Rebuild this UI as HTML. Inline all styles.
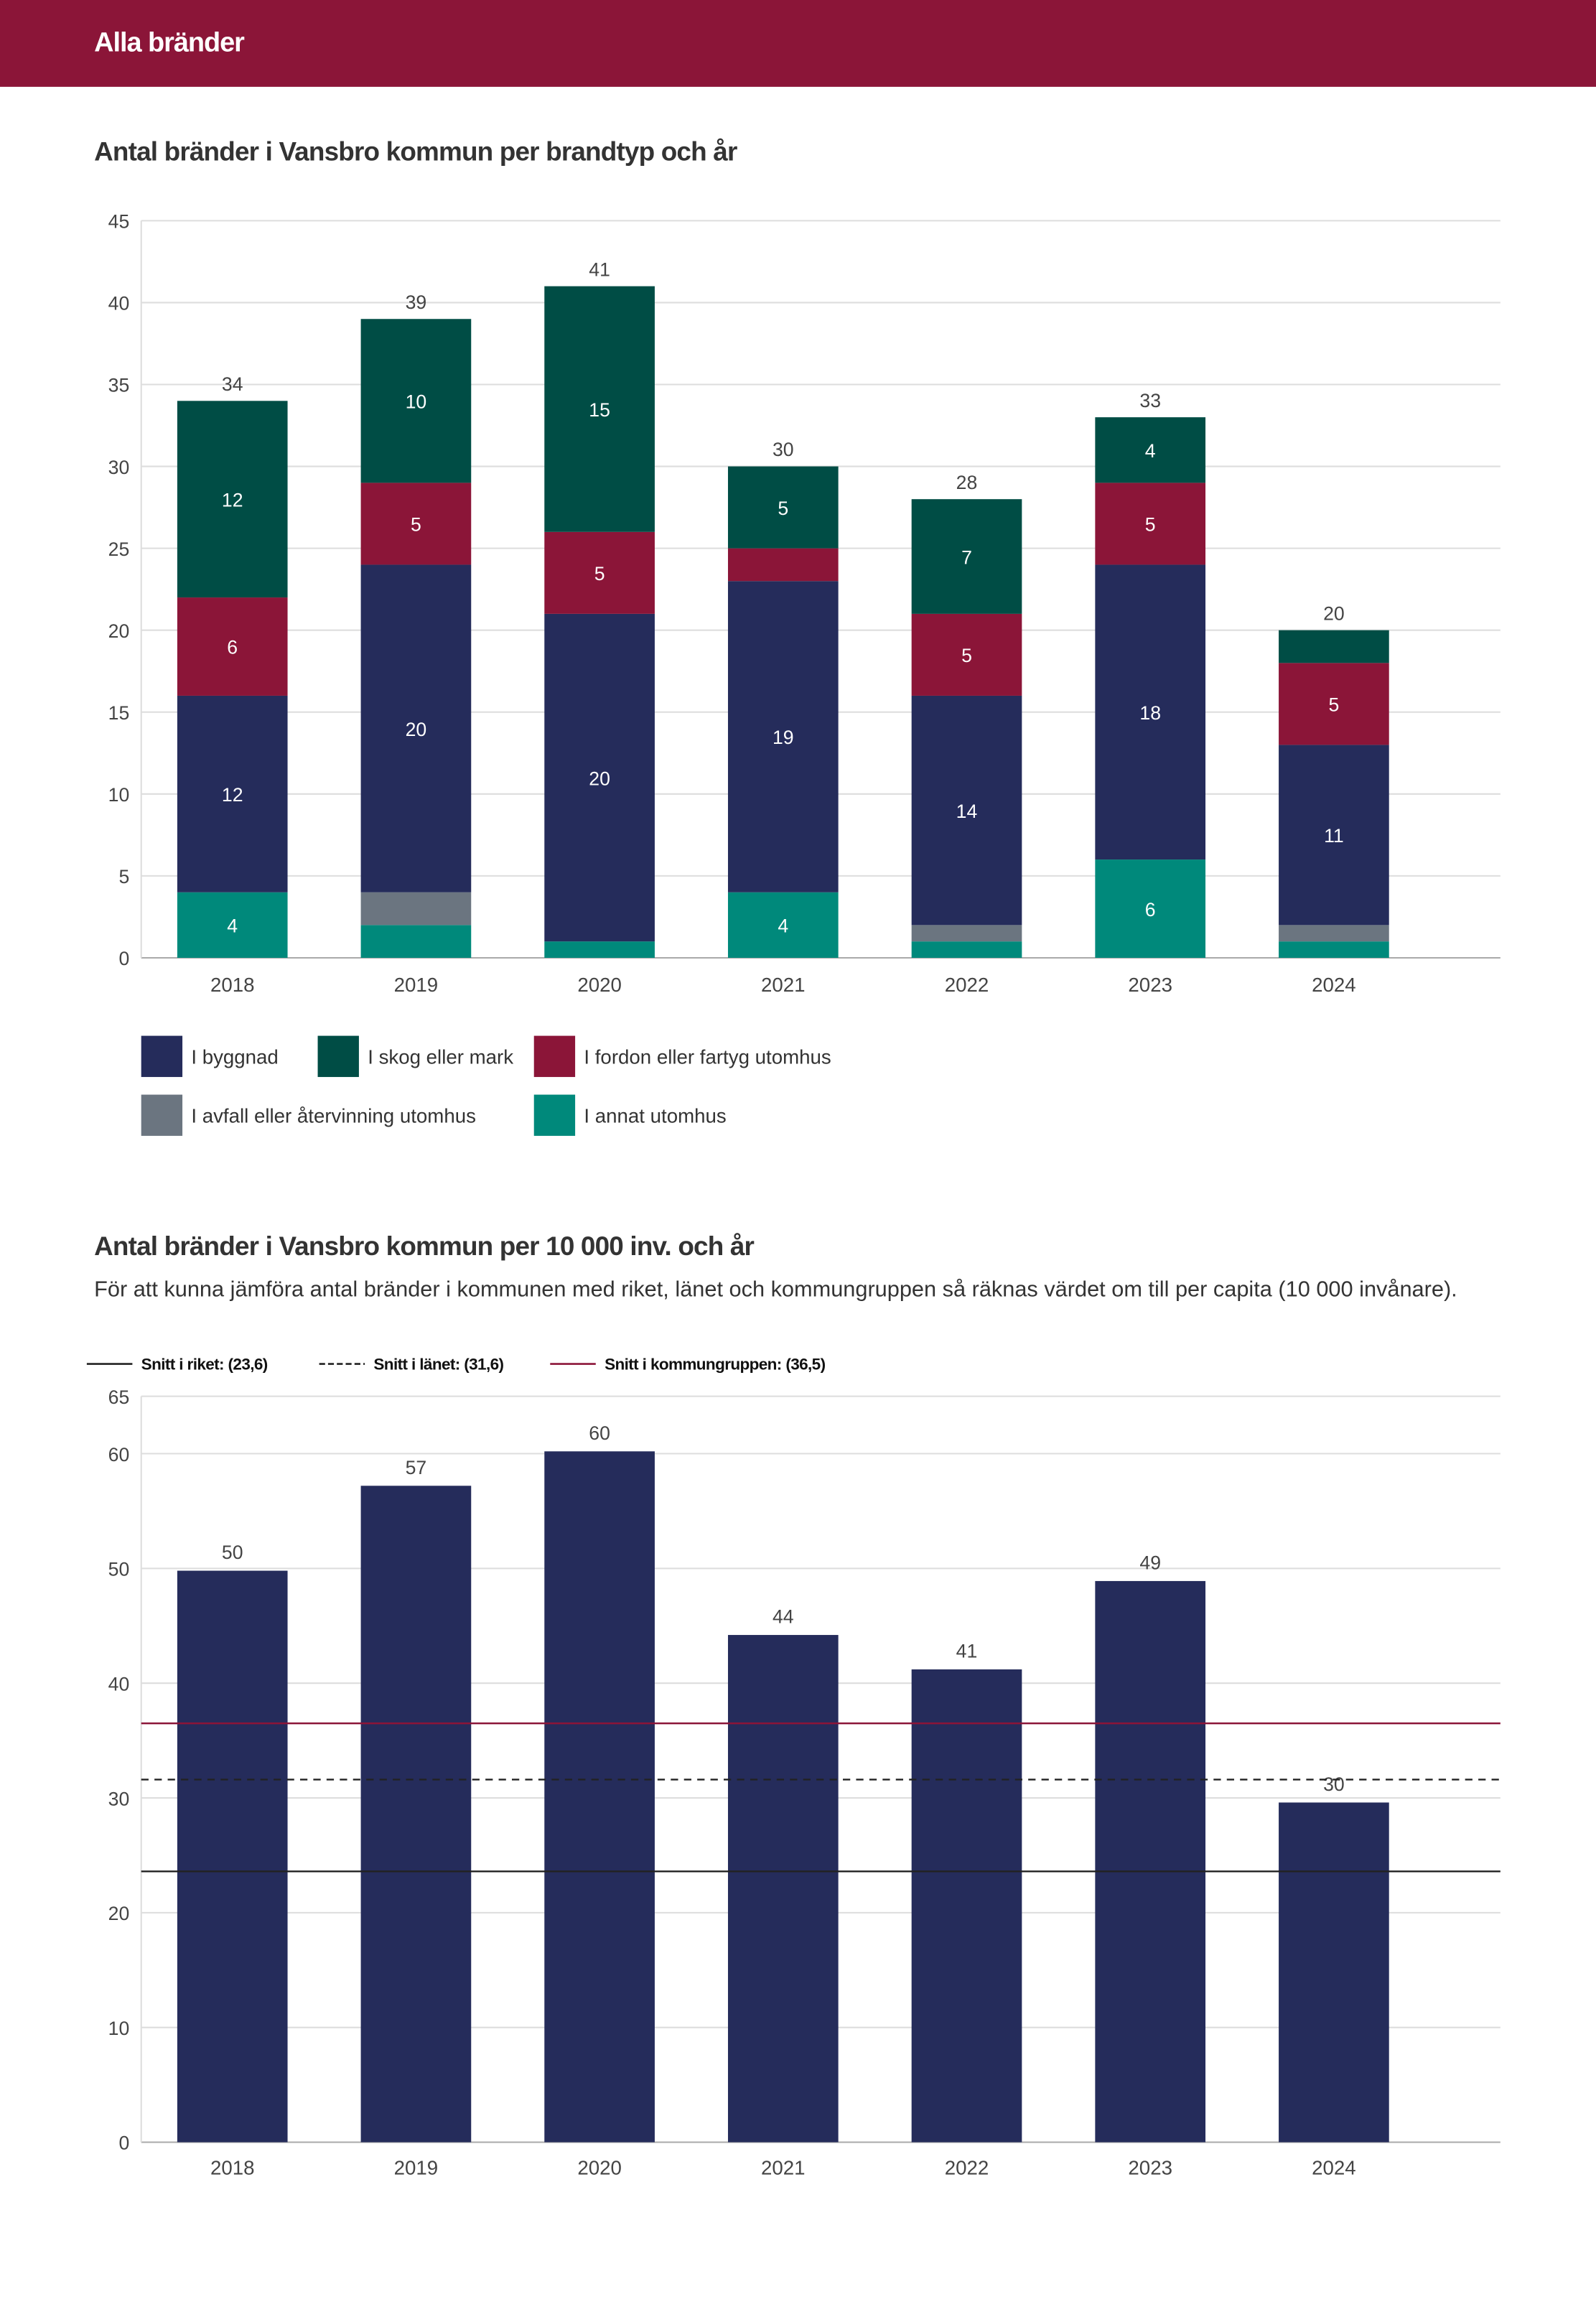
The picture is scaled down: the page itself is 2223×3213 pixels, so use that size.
<!DOCTYPE html>
<html><head><meta charset="utf-8">
<style>
html,body{margin:0;padding:0;background:#fff;}
svg{display:block;font-family:"Liberation Sans",sans-serif;}
</style></head>
<body>
<svg id="page" width="2223" height="3213" viewBox="0 0 1085 1568" preserveAspectRatio="none" xmlns="http://www.w3.org/2000/svg">
<rect x="0" y="0" width="1085" height="59" fill="#8B1538"/>
<text x="64" y="35" font-size="18.5" font-weight="bold" fill="#fff" letter-spacing="-0.5">Alla bränder</text>
<text x="64" y="109" font-size="18" font-weight="bold" fill="#333" letter-spacing="-0.4">Antal bränder i Vansbro kommun per brandtyp och år</text>
<g id="c1"></g>
<g id="leg1"></g>
<text x="64" y="853" font-size="18" font-weight="bold" fill="#333" letter-spacing="-0.4">Antal bränder i Vansbro kommun per 10 000 inv. och år</text>
<text x="64" y="881" font-size="15" fill="#333">För att kunna jämföra antal bränder i kommunen med riket, länet och kommungruppen så räknas värdet om till per capita (10 000 invånare).</text>
<g id="leg2"></g>
<g id="c2"></g>
</svg>
<script>
const years = ["2018","2019","2020","2021","2022","2023","2024"];
const seriesNames = ["I annat utomhus","I avfall eller återvinning utomhus","I byggnad","I fordon eller fartyg utomhus","I skog eller mark"];
const annat   = [4,2,1,4,1,6,1];
const avfall  = [0,2,0,0,1,0,1];
const byggnad = [12,20,20,19,14,18,11];
const fordon  = [6,5,5,2,5,5,5];
const skog    = [12,10,15,5,7,4,2];
const ticks1 = [0,5,10,15,20,25,30,35,40,45];
const perCapita = [49.8,57.2,60.2,44.2,41.2,48.9,29.6];
const ticks2 = [0,10,20,30,40,50,60,65];
const refRiket = 23.6, refLanet = 31.6, refGrupp = 36.5;

const NS="http://www.w3.org/2000/svg";
function mk(tag, attrs, parent, text){
  const e=document.createElementNS(NS,tag);
  for(const k in attrs) e.setAttribute(k,attrs[k]);
  if(text!==undefined) e.textContent=text;
  parent.appendChild(e); return e;
}
const colors=["#00897B","#6B7580","#252C5B","#8B1538","#004D45"];
const series=[annat,avfall,byggnad,fordon,skog];
const X0=96,X1=1020,step=124.8,first=158,bw=75;
const xC=i=>first+i*step;

// Chart 1
const c1=document.getElementById('c1');
const y1=v=>651-v*(501/45);
ticks1.forEach(t=>{
  const l=mk('line',{x1:X0,x2:X1,y1:y1(t),y2:y1(t),stroke:t===0?'#aaa':'#ddd','stroke-width':1},c1);
  
  
  const tx=mk('text',{x:88,y:y1(t)+5,'text-anchor':'end','font-size':13,fill:'#444'},c1,String(t));
  
  
});
const ax1=mk('line',{x1:X0,x2:X0,y1:y1(45),y2:y1(0),stroke:'#ddd'},c1);


years.forEach((yr,i)=>{
  let acc=0;
  series.forEach((s,k)=>{
    const v=s[i]; if(v<=0) return;
    const r=mk('rect',{x:xC(i)-bw/2,y:y1(acc+v),width:bw,height:y1(acc)-y1(acc+v),fill:colors[k]},c1);
    
    
    if(v>=3){
      const t=mk('text',{x:xC(i),y:(y1(acc)+y1(acc+v))/2+5,'text-anchor':'middle','font-size':13,fill:'#fff'},c1,String(v));
      
      
    }
    acc+=v;
  });
  const tl=mk('text',{x:xC(i),y:y1(acc)-7,'text-anchor':'middle','font-size':13,fill:'#444'},c1,String(acc));
  
  
  const xl=mk('text',{x:xC(i),y:674,'text-anchor':'middle','font-size':13.5,fill:'#444'},c1,yr);
  
  
});
// Legend 1
const leg1=document.getElementById('leg1');
const legPos=[[2,96,704],[4,216,704],[3,363,704],[1,96,744],[0,363,744]];
legPos.forEach(([k,x,y])=>{
  const r=mk('rect',{x:x,y:y,width:28,height:28,fill:colors[k]},leg1);
  
  
  const t=mk('text',{x:x+34,y:y+19,'font-size':13.5,fill:'#333'},leg1,seriesNames[k]);
  
  
});

// Legend 2
const leg2=document.getElementById('leg2');
const l2=[[59,'#222',null,'Snitt i riket: ('+String(refRiket).replace('.',',')+')'],
          [217,'#222','4 2','Snitt i länet: ('+String(refLanet).replace('.',',')+')'],
          [374,'#8B1538',null,'Snitt i kommungruppen: ('+String(refGrupp).replace('.',',')+')']];
l2.forEach(([x,c,d,txt])=>{
  const a={x1:x,x2:x+31,y1:927,y2:927,stroke:c,'stroke-width':1.3};
  if(d) a['stroke-dasharray']=d;
  const l=mk('line',a,leg2);
  
  
  const t=mk('text',{x:x+37,y:931,'font-size':11,'font-weight':'bold',fill:'#111','letter-spacing':'-0.3'},leg2,txt);
  
  
});

// Chart 2
const c2=document.getElementById('c2');
const y2=v=>1456-v*(507/65);
ticks2.forEach(t=>{
  const l=mk('line',{x1:X0,x2:X1,y1:y2(t),y2:y2(t),stroke:t===0?'#aaa':'#ddd','stroke-width':1},c2);
  
  
  const tx=mk('text',{x:88,y:y2(t)+5,'text-anchor':'end','font-size':13,fill:'#444'},c2,String(t));
  
  
});
const ax2=mk('line',{x1:X0,x2:X0,y1:y2(65),y2:y2(0),stroke:'#ddd'},c2);


years.forEach((yr,i)=>{
  const v=perCapita[i];
  const r=mk('rect',{x:xC(i)-bw/2,y:y2(v),width:bw,height:y2(0)-y2(v),fill:'#252C5B'},c2);
  
  
  const t=mk('text',{x:xC(i),y:y2(v)-8,'text-anchor':'middle','font-size':13,fill:'#444'},c2,String(Math.round(v)));
  
  
  const xl=mk('text',{x:xC(i),y:1478,'text-anchor':'middle','font-size':13.5,fill:'#444'},c2,yr);
  
  
});
[[refRiket,'#222',null,'riket'],[refLanet,'#222','5 4','lanet'],[refGrupp,'#8B1538',null,'kommungrupp']].forEach(([v,c,d,n])=>{
  const a={x1:X0,x2:X1,y1:y2(v),y2:y2(v),stroke:c,'stroke-width':1.2};
  if(d) a['stroke-dasharray']=d;
  const l=mk('line',a,c2);
  
  
});
</script>
</body></html>
